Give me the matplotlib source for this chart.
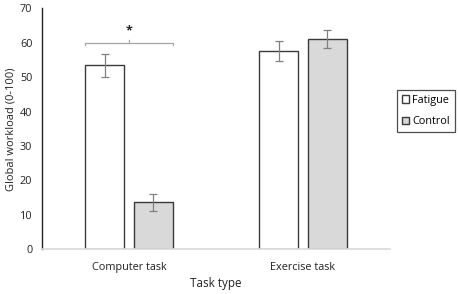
import matplotlib
matplotlib.use("Agg")
import matplotlib.pyplot as plt
import numpy as np

plt.rcParams['font.family'] = ['Open Sans', 'DejaVu Sans']

categories = ["Computer task", "Exercise task"]
series = ["Fatigue", "Control"]
fatigue = [53.4, 57.6]
fatigue_err = [3.4, 2.8]
control = [13.6, 61.1]
control_err = [2.5, 2.5]
yticks = [0, 10, 20, 30, 40, 50, 60, 70]

fig = plt.figure(figsize=(4.58, 2.94), dpi=100)
ax = fig.add_axes([42/458, 1-249.3/294, (390-42)/458, (249.3-8.3)/294])

x = np.arange(len(categories))
w = 0.224
off = 0.14
ecol = '#808080'
ax.bar(x - off, fatigue, w, color='white', edgecolor='#3a3a3a', linewidth=1.0,
       yerr=fatigue_err, error_kw=dict(ecolor=ecol, capsize=3, elinewidth=0.9, capthick=0.9),
       label=series[0], zorder=2)
ax.bar(x + off, control, w, color='#d9d9d9', edgecolor='#3a3a3a', linewidth=1.0,
       yerr=control_err, error_kw=dict(ecolor=ecol, capsize=3, elinewidth=0.9, capthick=0.9),
       label=series[1], zorder=2)

# significance bracket
bx0, bx1 = x[0] - off - w/2, x[0] + off + w/2
bc = '#a6a6a6'
ax.plot([bx0, bx0, bx1, bx1], [59.3, 60.0, 60.0, 59.3], color=bc, lw=0.9, clip_on=False)
ax.plot([x[0], x[0]], [60.0, 60.9], color=bc, lw=0.9)
ax.text(x[0], 61.6, "*", ha='center', va='bottom', fontsize=9, fontweight='bold', color='#222222')

ax.set_xlim(-0.5, 1.5)
ax.set_ylim(0, 70)
ax.set_yticks(yticks)
ax.set_xticks(x)
ax.set_xticklabels(categories)
ax.tick_params(axis='both', length=0, labelsize=7.8, colors='#222222')
ax.tick_params(axis='y', pad=7)
ax.tick_params(axis='x', pad=9)
for s in ['top', 'right']:
    ax.spines[s].set_visible(False)
ax.spines['left'].set_color('#222222')
ax.spines['left'].set_linewidth(1.0)
ax.spines['bottom'].set_color('#d9d9d9')
ax.spines['bottom'].set_linewidth(1.2)

ax.set_ylabel("Global workload (0-100)", fontsize=8, color='#222222', labelpad=2)
fig.text(216/458, 1-284/294, "Task type", ha='center', va='center', fontsize=8.4, color='#222222')

leg = fig.legend(loc='upper left', bbox_to_anchor=(397/458, 1-90/294), fontsize=7.8,
                 frameon=True, fancybox=False, edgecolor='#222222',
                 handlelength=0.7, handleheight=0.7, handletextpad=0.25,
                 borderpad=0.45, labelspacing=0.95, borderaxespad=0)
leg.get_frame().set_linewidth(0.9)

fig.savefig("out.png", dpi=100)
